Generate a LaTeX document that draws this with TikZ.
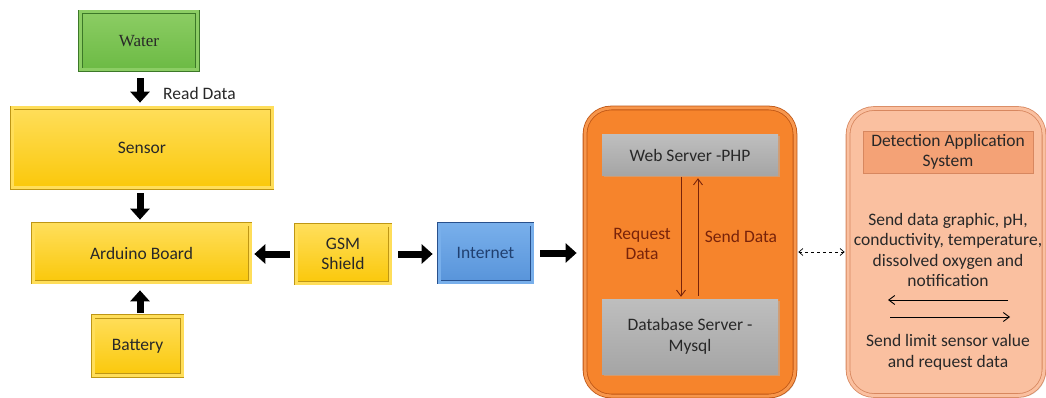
\documentclass[tikz,border=0pt]{standalone}
\usepackage{fontspec}
\setmainfont{Carlito}
\newfontfamily\serifw{Liberation Serif}
\usetikzlibrary{arrows.meta,shadows}
\definecolor{ylw}{RGB}{250,200,10}
\definecolor{ylwtop}{RGB}{255,222,90}
\definecolor{ylwbd}{RGB}{190,150,20}
\definecolor{grn}{RGB}{108,186,68}
\definecolor{grntop}{RGB}{140,205,100}
\definecolor{grnbd}{RGB}{60,120,40}
\definecolor{blu}{RGB}{88,148,218}
\definecolor{blutop}{RGB}{120,175,235}
\definecolor{blubd}{RGB}{40,80,140}
\definecolor{org}{RGB}{246,132,44}
\definecolor{orgbd}{RGB}{190,85,20}
\definecolor{gry}{RGB}{165,165,165}
\definecolor{grytop}{RGB}{190,190,190}
\definecolor{sal}{RGB}{250,192,160}
\definecolor{salbd}{RGB}{215,135,95}
\definecolor{saltitle}{RGB}{244,162,118}
\definecolor{brn}{RGB}{120,35,10}
\definecolor{txt}{RGB}{40,40,40}
\begin{document}
\begin{tikzpicture}[x=1pt,y=-1pt,
  every node/.style={font=\fontsize{17.5}{20.5}\selectfont, text=txt, align=center, inner sep=0pt},
  ybox/.style={draw=ylwbd, line width=0.7pt, double=ylwtop, double distance=3pt,
     top color=ylwtop, bottom color=ylw, drop shadow={shadow xshift=2pt, shadow yshift=-2pt, fill=black!35}},
  gbox/.style={draw=grnbd, line width=0.7pt, double=grntop, double distance=3pt,
     top color=grntop, bottom color=grn, drop shadow={shadow xshift=2pt, shadow yshift=-2pt, fill=black!35}},
  bbox/.style={draw=blubd, line width=0.7pt, double=blutop, double distance=3pt,
     top color=blutop, bottom color=blu, text=blubd!80!black, drop shadow={shadow xshift=2pt, shadow yshift=-2pt, fill=black!35}},
  gybox/.style={fill=gry, top color=grytop, bottom color=gry, drop shadow={shadow xshift=1.5pt, shadow yshift=-1.5pt, fill=black!30}},
  barrow/.style={line width=7pt, -{Triangle[length=11pt,width=19pt]}},
  tarrow/.style={draw=brn, line width=0.9pt, -{Straight Barb[length=6pt,width=9pt]}},
  karrow/.style={draw=black, line width=0.9pt, -{Straight Barb[length=6pt,width=9pt]}},
  lbl/.style={font=\fontsize{17.5}{20.5}\selectfont}
]
\useasboundingbox (0,0) rectangle (1046,398);
\fill[white] (0,0) rectangle (1046,398);

% left column
\node[gbox, minimum width=117pt, minimum height=58pt] (water) at (139,41) {\serifw\fontsize{17}{20}\selectfont Water};
\node[ybox, minimum width=260pt, minimum height=80pt] (sensor) at (142,148) {Sensor};
\node[ybox, minimum width=217pt, minimum height=58pt] (arduino) at (141.5,253) {Arduino Board};
\node[ybox, minimum width=89pt, minimum height=59pt] (battery) at (137.5,346) {Battery};
\node[ybox, minimum width=94pt, minimum height=58pt] (gsm) at (343,254) {GSM\\Shield};
\node[bbox, minimum width=93pt, minimum height=58pt] (internet) at (485.5,253) {Internet};

\node[lbl, anchor=west] (readdata) at (163,93) {Read Data};

% block arrows
\draw[barrow, shorten <=8pt, shorten >=5pt] ([xshift=1pt]water.south) -- ([xshift=1pt]water.south |- sensor.north);
\draw[barrow, shorten <=5pt, shorten >=4pt] ([xshift=-2pt]sensor.south) -- ([xshift=-2pt]sensor.south |- arduino.north);
\draw[barrow, shorten <=3pt, shorten >=8pt] ([xshift=2.5pt]battery.north) -- ([xshift=2.5pt]battery.north |- arduino.south);
\draw[barrow, shorten <=6pt, shorten >=4pt] (gsm.west) -- (arduino.east |- gsm.west);
\draw[barrow, shorten <=8pt, shorten >=6pt] (gsm.east) -- (internet.west |- gsm.east);

% server box
\node[draw=orgbd, line width=0.8pt, double=org!85!white, double distance=3pt, fill=org, rounded corners=26pt,
  minimum width=210pt, minimum height=288pt,
  drop shadow={shadow xshift=2pt, shadow yshift=-2pt, fill=black!30}] (server) at (690,252) {};
\draw[barrow, shorten <=8pt, shorten >=8pt] (internet.east) -- (server.west |- internet.east);
\node[gybox, minimum width=176pt, minimum height=41pt] (web) at (690,155.5) {Web Server -PHP};
\node[gybox, minimum width=176pt, minimum height=75pt] (db) at (690,336.5) {Database Server -\\Mysql};
\draw[tarrow, shorten <=1pt, shorten >=2pt] ([xshift=-9pt]web.south) -- ([xshift=-9pt]web.south |- db.north);
\draw[tarrow, shorten <=3pt, shorten >=2pt] ([xshift=8pt]db.north) -- ([xshift=8pt]db.north |- web.south);
\node[lbl, text=brn] (req) at (642,244) {Request\\Data};
\node[lbl, text=brn] (send) at (741,236) {Send Data};

% application box
\node[draw=salbd, line width=0.8pt, double=sal, double distance=3pt, fill=sal, rounded corners=26pt,
  minimum width=196pt, minimum height=287pt,
  drop shadow={shadow xshift=2pt, shadow yshift=-2pt, fill=black!25}] (app) at (946,252) {};
\draw[line width=0.7pt, dashed, {Straight Barb[length=4pt,width=7pt]}-{Straight Barb[length=4pt,width=7pt]}, shorten <=3pt, shorten >=3pt] (server.east) -- (app.west);
\node[draw=salbd, line width=0.6pt, fill=saltitle, minimum width=170pt, minimum height=42pt] (title) at (948,152) {Detection Application\\System};
\node (txt1) at (948,250) {\fontsize{17.5}{22.3}\selectfont Send data graphic, pH,\\conductivity, temperature,\\dissolved oxygen and\\notification};
\coordinate (a1s) at (1008,300);
\coordinate (a1e) at (888,300);
\coordinate (a2s) at (890,317);
\coordinate (a2e) at (1010,317);
\draw[karrow] (a1s) -- (a1e);
\draw[karrow] (a2s) -- (a2e);
\node (txt2) at (948,352.5) {\fontsize{17.5}{21}\selectfont Send limit sensor value\\and request data};
\end{tikzpicture}
\end{document}
